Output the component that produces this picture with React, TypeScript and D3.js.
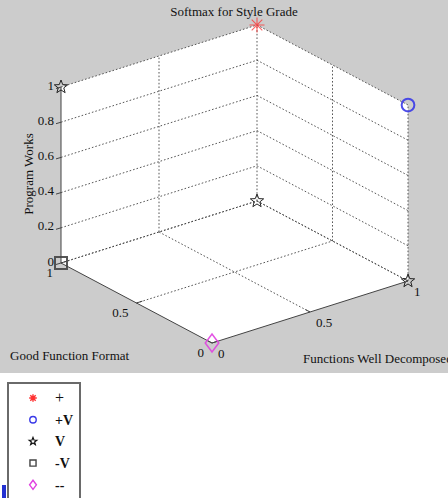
import React, { useEffect, useRef } from "react";
import * as d3 from "d3";

// points of the softmax plot, one entry per marker
const pointSeries = ["+", "+V", "V", "V", "V", "-V", "--"];
const goodFunctionFormat = [1, 0, 1, 1, 0, 1, 0];
const functionsWellDecomposed = [1, 1, 0, 1, 1, 0, 0];
const programWorks = [1, 1, 1, 0, 0, 0, 0];

const legendLabels = ["+", "+V", "V", "-V", "--"];
const pwTicks = [0, 0.2, 0.4, 0.6, 0.8, 1];
const pwTickLabels = ["0", "0.2", "0.4", "0.6", "0.8", "1"];
const gffTicks = [0, 0.5, 1];
const gffTickLabels = ["0", "0.5", "1"];
const fwdTicks = [0, 0.5, 1];
const fwdTickLabels = ["0", "0.5", "1"];

const colors: Record<string, string> = {
  "+": "#ff3030",
  "+V": "#3a3ae8",
  V: "#111",
  "-V": "#444",
  "--": "#e040e0",
};

const FONT = "'Liberation Serif', 'DejaVu Serif', serif";

function markerPath(kind: string, s: number): string {
  const p = d3.path();
  if (kind === "+") {
    const d = s * 0.7071;
    p.moveTo(-s, 0); p.lineTo(s, 0);
    p.moveTo(0, -s); p.lineTo(0, s);
    p.moveTo(-d, -d); p.lineTo(d, d);
    p.moveTo(-d, d); p.lineTo(d, -d);
  } else if (kind === "+V") {
    p.arc(0, 0, s * 0.85, 0, Math.PI * 2);
  } else if (kind === "V") {
    for (let i = 0; i < 10; i++) {
      const r = i % 2 === 0 ? s : s * 0.42;
      const a = -Math.PI / 2 + (i * Math.PI) / 5;
      if (i === 0) p.moveTo(r * Math.cos(a), r * Math.sin(a));
      else p.lineTo(r * Math.cos(a), r * Math.sin(a));
    }
    p.closePath();
  } else if (kind === "-V") {
    const h = s * 0.8;
    p.rect(-h, -h, h * 2, h * 2);
  } else {
    p.moveTo(0, -s * 1.2); p.lineTo(s * 0.9, 0);
    p.lineTo(0, s * 1.2); p.lineTo(-s * 0.9, 0);
    p.closePath();
  }
  return p.toString();
}

function App() {
  const svgRef = useRef<SVGSVGElement>(null);

  useEffect(() => {
    const width = 448;
    const height = 498;
    const svg = d3.select(svgRef.current);
    svg.selectAll("*").remove();
    svg.attr("width", width).attr("height", height);

    // projection of the 3D box onto the screen
    const origin = [212, 343];
    const gx = d3.scaleLinear().domain([0, 1]).range([0, -151]);
    const gy = d3.scaleLinear().domain([0, 1]).range([0, -80]);
    const fx = d3.scaleLinear().domain([0, 1]).range([0, 196]);
    const fy = d3.scaleLinear().domain([0, 1]).range([0, -62]);
    const pz = d3.scaleLinear().domain([0, 1]).range([0, -176]);
    const P = (g: number, f: number, p: number): [number, number] => [
      origin[0] + gx(g) + fx(f),
      origin[1] + gy(g) + fy(f) + pz(p),
    ];

    svg.append("rect").attr("width", width).attr("height", height).attr("fill", "#fff");
    svg.append("rect").attr("width", width).attr("height", 373).attr("fill", "#cccccc");

    // white back walls and floor
    const hull = [P(1, 0, 1), P(1, 1, 1), P(0, 1, 1), P(0, 1, 0), P(0, 0, 0), P(1, 0, 0)];
    svg.append("polygon")
      .attr("points", hull.map(d => d.join(",")).join(" "))
      .attr("fill", "#fff");

    const grid = svg.append("g")
      .attr("stroke", "#444")
      .attr("stroke-width", 0.9)
      .attr("stroke-dasharray", "1.6,2")
      .attr("fill", "none");
    const seg = (a: [number, number], b: [number, number]) =>
      grid.append("line").attr("x1", a[0]).attr("y1", a[1]).attr("x2", b[0]).attr("y2", b[1]);

    pwTicks.forEach(p => {
      seg(P(1, 0, p), P(1, 1, p));
      seg(P(1, 1, p), P(0, 1, p));
    });
    fwdTicks.filter(f => f > 0).forEach(f => seg(P(1, f, 0), P(1, f, 1)));
    gffTicks.filter(g => g < 1).forEach(g => seg(P(g, 1, 0), P(g, 1, 1)));
    gffTicks.filter(g => g > 0).forEach(g => seg(P(g, 0, 0), P(g, 1, 0)));
    fwdTicks.filter(f => f > 0).forEach(f => seg(P(0, f, 0), P(1, f, 0)));

    // solid axes
    const axes = svg.append("g").attr("stroke", "#444").attr("stroke-width", 1);
    const axLine = (a: [number, number], b: [number, number]) =>
      axes.append("line").attr("x1", a[0]).attr("y1", a[1]).attr("x2", b[0]).attr("y2", b[1]);
    axLine(P(1, 0, 0), P(1, 0, 1));
    axLine(P(0, 0, 0), P(1, 0, 0));
    axLine(P(0, 0, 0), P(0, 1, 0));

    pwTicks.forEach(p => {
      const a = P(1, 0, p);
      axLine(a, [a[0] - 5, a[1] + 1.5]);
    });
    gffTicks.forEach(g => axLine(P(g, 0, 0), P(g, 0.03, 0)));
    fwdTicks.forEach(f => axLine(P(0, f, 0), P(0.03, f, 0)));

    const labels = svg.append("g")
      .attr("font-family", FONT)
      .attr("font-size", 13)
      .attr("fill", "#111");

    pwTicks.forEach((p, i) => {
      const a = P(1, 0, p);
      labels.append("text").attr("x", a[0] - 7).attr("y", a[1] + 2.5)
        .attr("text-anchor", "end").text(pwTickLabels[i]);
    });
    gffTicks.forEach((g, i) => {
      const a = P(g, 0, 0);
      labels.append("text").attr("x", a[0] - 8).attr("y", a[1] + 13.5)
        .attr("text-anchor", "end").text(gffTickLabels[i]);
    });
    fwdTicks.forEach((f, i) => {
      const a = P(0, f, 0);
      labels.append("text").attr("x", a[0] + 6).attr("y", a[1] + 15)
        .attr("text-anchor", "start").text(fwdTickLabels[i]);
    });

    labels.append("text").attr("x", 234).attr("y", 16)
      .attr("text-anchor", "middle").text("Softmax for Style Grade");
    labels.append("text").attr("transform", "translate(33,174) rotate(-90)")
      .attr("text-anchor", "middle").text("Program Works");
    labels.append("text").attr("x", 10).attr("y", 360).text("Good Function Format");
    labels.append("text").attr("x", 303).attr("y", 363).text("Functions Well Decomposed");

    // data markers
    pointSeries.forEach((k, i) => {
      const [x, y] = P(goodFunctionFormat[i], functionsWellDecomposed[i], programWorks[i]);
      svg.append("path")
        .attr("d", markerPath(k, k === "+" ? 7.5 : k === "V" ? 7 : 7.5))
        .attr("transform", `translate(${x},${y})`)
        .attr("fill", "none")
        .attr("stroke", colors[k])
        .attr("stroke-width", k === "V" ? 1 : k === "--" ? 1.5 : k === "+" ? 1.1 : 2)
        .attr("stroke-opacity", k === "+" ? 0.75 : 0.9);
    });

    // legend
    const lg = svg.append("g");
    lg.append("rect").attr("x", 8).attr("y", 383).attr("width", 72).attr("height", 130)
      .attr("fill", "#fff").attr("stroke", "#6a6a6a").attr("stroke-width", 2);
    lg.append("rect").attr("x", 2).attr("y", 485).attr("width", 4).attr("height", 13)
      .attr("fill", "#2230d0");
    legendLabels.forEach((k, i) => {
      const y = 398 + i * 21.7;
      lg.append("path")
        .attr("d", markerPath(k, k === "V" ? 4 : 3.8))
        .attr("transform", `translate(33,${y})`)
        .attr("fill", "none")
        .attr("stroke", colors[k])
        .attr("stroke-width", k === "V" ? 1.2 : 1.4);
      lg.append("text").attr("x", 55).attr("y", y + 5)
        .attr("font-family", FONT)
        .attr("font-size", k === "+" ? 16 : 14)
        .attr("font-weight", k === "+" ? "normal" : "bold")
        .attr("fill", "#111")
        .text(k);
    });
  }, []);

  return (
    <svg ref={svgRef} style={{ position: "absolute", left: 0, top: 0, display: "block" }}></svg>
  );
}

export default App;
